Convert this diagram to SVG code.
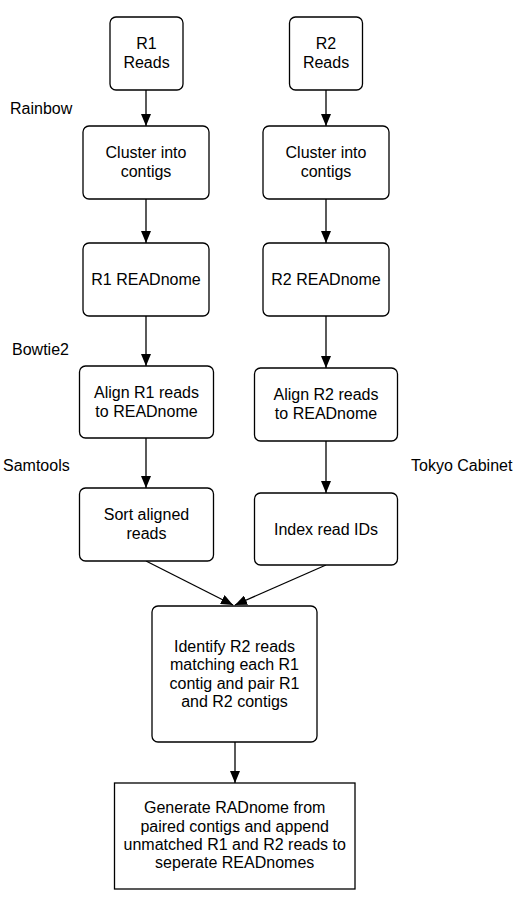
<svg xmlns="http://www.w3.org/2000/svg" width="518" height="897" viewBox="0 0 518 897">
<defs>
<marker id="arr" markerUnits="userSpaceOnUse" markerWidth="12" markerHeight="10" refX="12" refY="5" orient="auto">
<path d="M0,0 L12,5 L0,10 z" fill="#000"/>
</marker>
<style>
.box{fill:#fff;stroke:#000;stroke-width:1.3}
text{font-family:"Liberation Sans",Arial,sans-serif;font-size:16px;fill:#000}
.c{text-anchor:middle}
.con{stroke:#000;stroke-width:1.3;fill:none;marker-end:url(#arr)}
</style>
</defs>
<rect width="518" height="897" fill="#fff"/>
<g id="labels">
<text x="10" y="114">Rainbow</text>
<text x="12" y="355">Bowtie2</text>
<text x="3" y="471">Samtools</text>
<text x="411" y="471">Tokyo Cabinet</text>
</g>
<g id="connectors">
<line class="con" x1="146" y1="90" x2="146" y2="126"/>
<line class="con" x1="326" y1="90" x2="326" y2="126"/>
<line class="con" x1="146" y1="199" x2="146" y2="243"/>
<line class="con" x1="326" y1="199" x2="326" y2="243"/>
<line class="con" x1="146" y1="316" x2="146" y2="366"/>
<line class="con" x1="326" y1="316" x2="326" y2="368"/>
<line class="con" x1="146" y1="438" x2="146" y2="488"/>
<line class="con" x1="326" y1="441" x2="326" y2="493"/>
<line class="con" x1="146" y1="561" x2="233" y2="605"/>
<line class="con" x1="326" y1="565" x2="235" y2="605"/>
<line class="con" x1="235" y1="742" x2="235" y2="783"/>
</g>
<g id="r1reads"><rect class="box" x="110" y="17" width="73" height="73" rx="6"/><text class="c" x="146.5" y="49">R1</text><text class="c" x="146.5" y="67.5">Reads</text></g>
<g id="r2reads"><rect class="box" x="289.5" y="17" width="73" height="73" rx="6"/><text class="c" x="326" y="49">R2</text><text class="c" x="326" y="67.5">Reads</text></g>
<g id="cluster1"><rect class="box" x="83" y="126" width="126" height="73" rx="6"/><text class="c" x="146" y="158">Cluster into</text><text class="c" x="146" y="176.5">contigs</text></g>
<g id="cluster2"><rect class="box" x="263" y="126" width="126" height="73" rx="6"/><text class="c" x="326" y="158">Cluster into</text><text class="c" x="326" y="176.5">contigs</text></g>
<g id="readnome1"><rect class="box" x="83" y="243" width="126" height="73" rx="6"/><text class="c" x="146" y="285">R1 READnome</text></g>
<g id="readnome2"><rect class="box" x="263" y="243" width="126" height="73" rx="6"/><text class="c" x="326" y="285">R2 READnome</text></g>
<g id="align1"><rect class="box" x="79.5" y="366" width="134" height="72" rx="6"/><text class="c" x="146.5" y="398">Align R1 reads</text><text class="c" x="146.5" y="416.5">to READnome</text></g>
<g id="align2"><rect class="box" x="254.5" y="368" width="143" height="73" rx="6"/><text class="c" x="326" y="400">Align R2 reads</text><text class="c" x="326" y="418.5">to READnome</text></g>
<g id="sort"><rect class="box" x="79.5" y="488" width="134" height="73" rx="6"/><text class="c" x="146.5" y="520">Sort aligned</text><text class="c" x="146.5" y="538.5">reads</text></g>
<g id="index"><rect class="box" x="254.5" y="493" width="143" height="72" rx="6"/><text class="c" x="326" y="534.5">Index read IDs</text></g>
<g id="identify"><rect class="box" x="152" y="606" width="165" height="136" rx="6"/><text class="c" x="234.5" y="652">Identify R2 reads</text><text class="c" x="234.5" y="670.3">matching each R1</text><text class="c" x="234.5" y="688.6">contig and pair R1</text><text class="c" x="234.5" y="707">and R2 contigs</text></g>
<g id="generate"><rect class="box" x="114.5" y="783" width="240.5" height="106"/><text class="c" x="234.7" y="813">Generate RADnome from</text><text class="c" x="234.7" y="831.5">paired contigs and append</text><text class="c" x="234.7" y="850">unmatched R1 and R2 reads to</text><text class="c" x="234.7" y="868.3">seperate READnomes</text></g>
</svg>
